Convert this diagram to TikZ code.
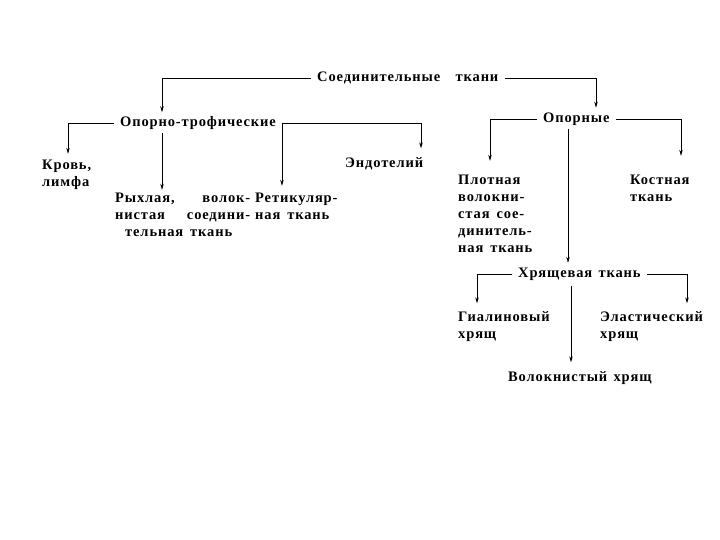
\documentclass[tikz,border=0pt]{standalone}
\usepackage{fontspec}
\usepackage{tikz}
\usetikzlibrary{arrows.meta,positioning}
\newfontfamily\lblfont{Liberation Serif}[LetterSpace=6,WordSpace=1.4]
\tikzset{
  lbl/.style={font=\lblfont\bfseries\fontsize{14.5bp}{17bp}\selectfont, anchor=base west, inner ysep=0pt, inner xsep=6bp},
  blk/.style={lbl, inner xsep=0pt, align=left, text width=#1, execute at begin node={\spaceskip=7bp plus 2bp}},
  link/.style={-{Stealth[length=6bp,width=3.5bp]}, line width=0.7bp, black}
}
\begin{document}
\begin{tikzpicture}[x=1bp, y=-1bp]
  \useasboundingbox (0,0) rectangle (720,540);
  \node[lbl] (st) at (311,81.5) {Соединительные\hspace{9bp} ткани};
  \node[lbl] (ot) at (114,126.5) {Опорно-трофические};
  \node[lbl] (op) at (537,122.5) {Опорные};
  \node[lbl] (en) at (339,167.5) {Эндотелий};
  \node[lbl] (xr) at (512,277.5) {Хрящевая ткань};
  \node[lbl] (vh) at (502,381.5) {Волокнистый хрящ};
  \node[blk=60bp] (kr) at (42,169.5) {Кровь,\\лимфа};
  \node[blk=135bp] (ry) at (115,202.5) {Рыхлая,\hfill волок-\\нистая\hfill соедини-\\\hspace*{10bp}тельная ткань};
  \node[blk=85bp] (re) at (255,202.5) {Ретикуляр-\\ная ткань};
  \node[blk=85bp] (pl) at (458,184.5) {Плотная\\волокни-\\стая сое-\\динитель-\\ная ткань};
  \node[blk=70bp] (ko) at (630,184.5) {Костная\\ткань};
  \node[blk=100bp] (gi) at (458,321.5) {Гиалиновый\\хрящ};
  \node[blk=115bp] (el) at (600,321.5) {Эластический\\хрящ};
  \coordinate (ot-m) at ([xshift=48bp,yshift=-3bp]ot.south west);
  \coordinate (op-m) at ([xshift=31bp,yshift=-3bp]op.south west);
  \coordinate (xr-m) at ([xshift=59bp,yshift=-5bp]xr.south west);
  \draw[link, shorten >=4bp] (st.west) -| ([xshift=48bp]ot.north west);
  \draw[link, shorten >=5bp] (st.east) -| ([xshift=59bp]op.north west);
  \draw[link, shorten >=6bp] (ot.west) -| ([xshift=26bp]kr.north west);
  \draw[link, shorten >=3bp] (ot-m) -- (ot-m |- ry.north);
  \draw[link, shorten >=9bp] (ot.east) -| ([xshift=82bp]en.north west);
  \draw[link, shorten >=7bp] (ot.east) -- (ot.east |- re.north);
  \draw[link, shorten >=14bp] (op.west) -| ([xshift=32bp]pl.north west);
  \draw[link, shorten >=19bp] (op.east) -| ([xshift=51bp]ko.north west);
  \draw[link, shorten >=5bp] (op-m) -- (op-m |- xr.north);
  \draw[link, shorten >=8bp] (xr.west) -| ([xshift=19bp]gi.north west);
  \draw[link, shorten >=8bp] (xr.east) -| ([xshift=87bp]el.north west);
  \draw[link, shorten >=9bp] (xr-m) -- (xr-m |- vh.north);
\end{tikzpicture}
\end{document}
